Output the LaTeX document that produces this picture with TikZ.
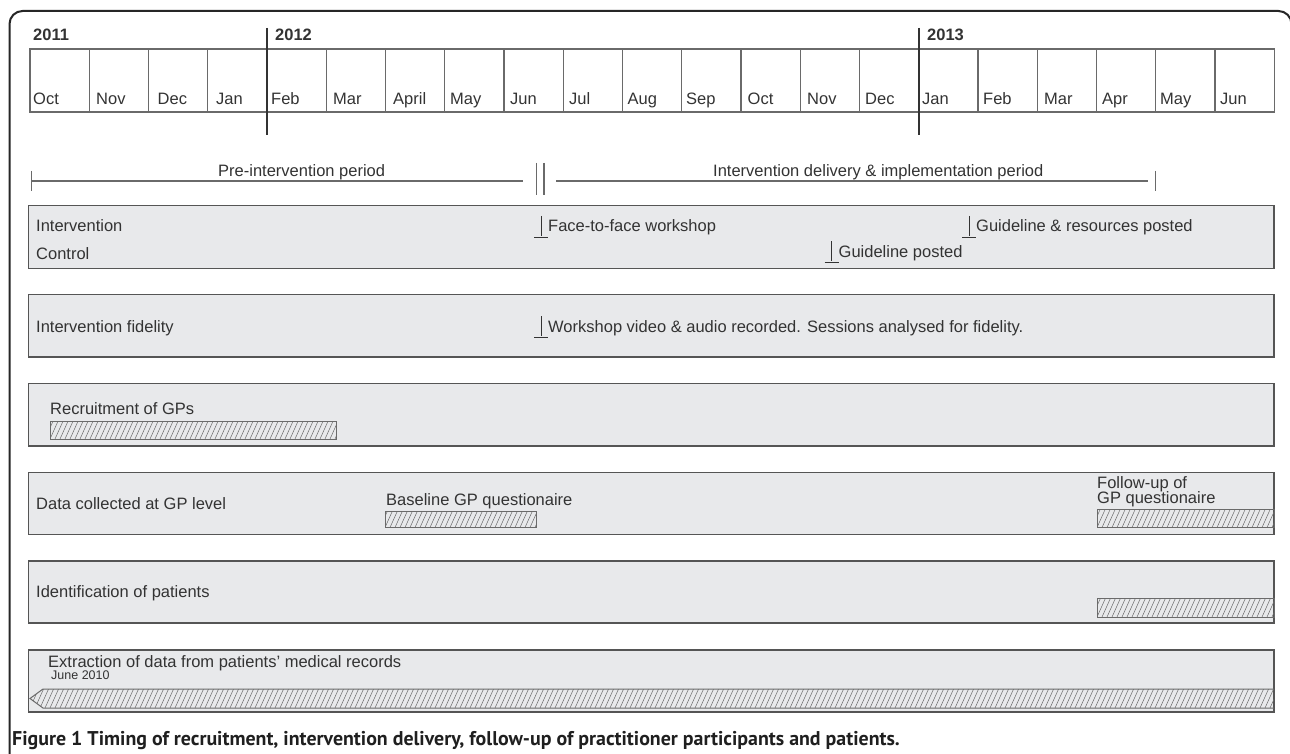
\documentclass[tikz,border=0pt]{standalone}
\usepackage{fontspec}
\setmainfont{Liberation Sans}
\newfontfamily\capfont{PT Sans}
\definecolor{textgray}{HTML}{333333}
\definecolor{boxfill}{HTML}{E8E9EB}
\definecolor{boxline}{HTML}{555555}
\definecolor{gridline}{HTML}{6A6A6A}
\newcommand{\tmarker}[2]{%
  \draw[mk] ({#1},{#2-20}) -- ({#1},{#2});
  \draw[mk] ({#1-7},{#2+1}) -- ({#1+7},{#2+1});}
\newcommand{\hatchbar}[4]{%
  \begin{scope}
    \clip (#1,#2) rectangle (#3,#4);
    \pgfmathtruncatemacro\nh{(#3-#1)/5+4}
    \foreach \k in {0,...,\nh} \draw[hatch] ({#1+5*\k-10},{#4}) -- ++(9,-20);
  \end{scope}
  \draw[barline] (#1,#2) rectangle (#3,#4);}
\begin{document}
\begin{tikzpicture}[x=1pt,y=-1pt,
  txt/.style={inner sep=0pt, anchor=base west, text=textgray, font=\fontsize{16.5}{19}\selectfont},
  small/.style={txt, font=\fontsize{12.5}{14}\selectfont},
  yr/.style={txt, font=\bfseries\fontsize{16.5}{19}\selectfont},
  grid/.style={draw=gridline, line width=1.2pt},
  yrline/.style={draw=textgray, line width=1.5pt},
  box/.style={draw=boxline, fill=boxfill, line width=1.2pt},
  mk/.style={draw=textgray, line width=1pt},
  hatch/.style={draw=gridline, line width=0.5pt},
  barline/.style={draw=gridline, line width=1pt},
  frame/.style={draw=black!85, line width=2pt, rounded corners=13pt}]
\useasboundingbox (0,0) rectangle (1290,754);
\clip (0,0) rectangle (1290,754);
\fill[white] (0,0) rectangle (1290,754);
% outer frame
\draw[frame] (9.5,800) -- (9.5,11) -- (1291.5,11) -- (1291.5,800);
% year labels
\node[yr] (y2011) at (33,41) {2011};
\node[yr] (y2012) at (275,41) {2012};
\node[yr] (y2013) at (927,41) {2013};
% month grid
\draw[grid] (30,49) rectangle (1274.3,112);
\foreach \i in {1,...,20} \draw[grid] ({30+59.25*\i},49) -- ({30+59.25*\i},112);
\draw[yrline] (267,28) -- (267,135);
\draw[yrline] (918.75,28) -- (918.75,135);
\foreach \m/\x [count=\i] in {Oct/33, Nov/96, Dec/157.5, Jan/216, Feb/271, Mar/333, April/393, May/450, Jun/510, Jul/569, Aug/627.5, Sep/686, Oct/747.5, Nov/807, Dec/865, Jan/922, Feb/983, Mar/1044, Apr/1102, May/1160, Jun/1220}
  \node[txt] (m\i) at (\x,104.5) {\m};
% periods
\draw[grid] (31.7,171) -- (31.7,191);
\draw[grid] (31.7,181) -- (523,181);
\draw[grid] (536.7,163) -- (536.7,195);
\draw[grid] (544,163) -- (544,195);
\draw[grid] (556,181) -- (1148,181);
\draw[grid] (1155.7,171) -- (1155.7,191);
\node[txt] (pre) at (218,176.5) {Pre-intervention period};
\node[txt] (post) at (713,176.5) {Intervention delivery \& implementation period};
% boxes
\draw[box] (28.5,205.5) rectangle (1274,268.5);
\draw[box] (28.5,294.5) rectangle (1274,357);
\draw[box] (28.5,383.5) rectangle (1274,446);
\draw[box] (28.5,472.5) rectangle (1274,534.5);
\draw[box] (28.5,561) rectangle (1274,623);
\draw[box] (28.5,650) rectangle (1274,712);
% box 1
\node[txt] (int) at (36,232) {Intervention};
\node[txt] (ctl) at (36,259) {Control};
\tmarker{541}{236}
\node[txt] (f2f) at (548,232) {Face-to-face workshop};
\tmarker{969.3}{236}
\node[txt] (gres) at (976,232) {Guideline \& resources posted};
\tmarker{831.7}{261}
\node[txt] (gpost) at (838.5,258) {Guideline posted};
% box 2
\node[txt] (fid) at (36,332) {Intervention fidelity};
\tmarker{541}{336}
\node[txt] (wsv) at (548,332) {Workshop video \& audio recorded. Sessions analysed for fidelity.};
% box 3
\node[txt] (rec) at (50,414) {Recruitment of GPs};
\hatchbar{50}{421}{336}{439}
% box 4
\node[txt] (dat) at (36,509) {Data collected at GP level};
\node[txt] (base) at (386,505) {Baseline GP questionaire};
\hatchbar{385}{511}{536}{527.5}
\node[txt] (fol1) at (1097,488) {Follow-up of};
\node[txt] (fol2) at (1097,503.5) {GP questionaire};
\hatchbar{1097}{509.5}{1274}{527.5}
% box 5
\node[txt] (idp) at (36,597) {Identification of patients};
\hatchbar{1097}{598.5}{1274}{617}
% box 6
\node[txt] (ext) at (48,667) {Extraction of data from patients’ medical records};
\node[small] (jun) at (51,679) {June 2010};
\begin{scope}
  \clip (30,698.5) -- (43,689) -- (1274,689) -- (1274,708) -- (43,708) -- cycle;
  \foreach \k in {0,...,252} \draw[hatch] ({25+5*\k},708) -- ++(9,-20);
\end{scope}
\draw[barline] (1274,689) -- (43,689) -- (30,698.5) -- (43,708) -- (1274,708);
% caption
\node[inner sep=0pt, anchor=base west, text=black!88, font=\capfont\bfseries\fontsize{19.9}{22}\selectfont] (cap) at (12,745) {Figure 1 Timing of recruitment, intervention delivery, follow-up of practitioner participants and patients.};
\end{tikzpicture}
\end{document}
